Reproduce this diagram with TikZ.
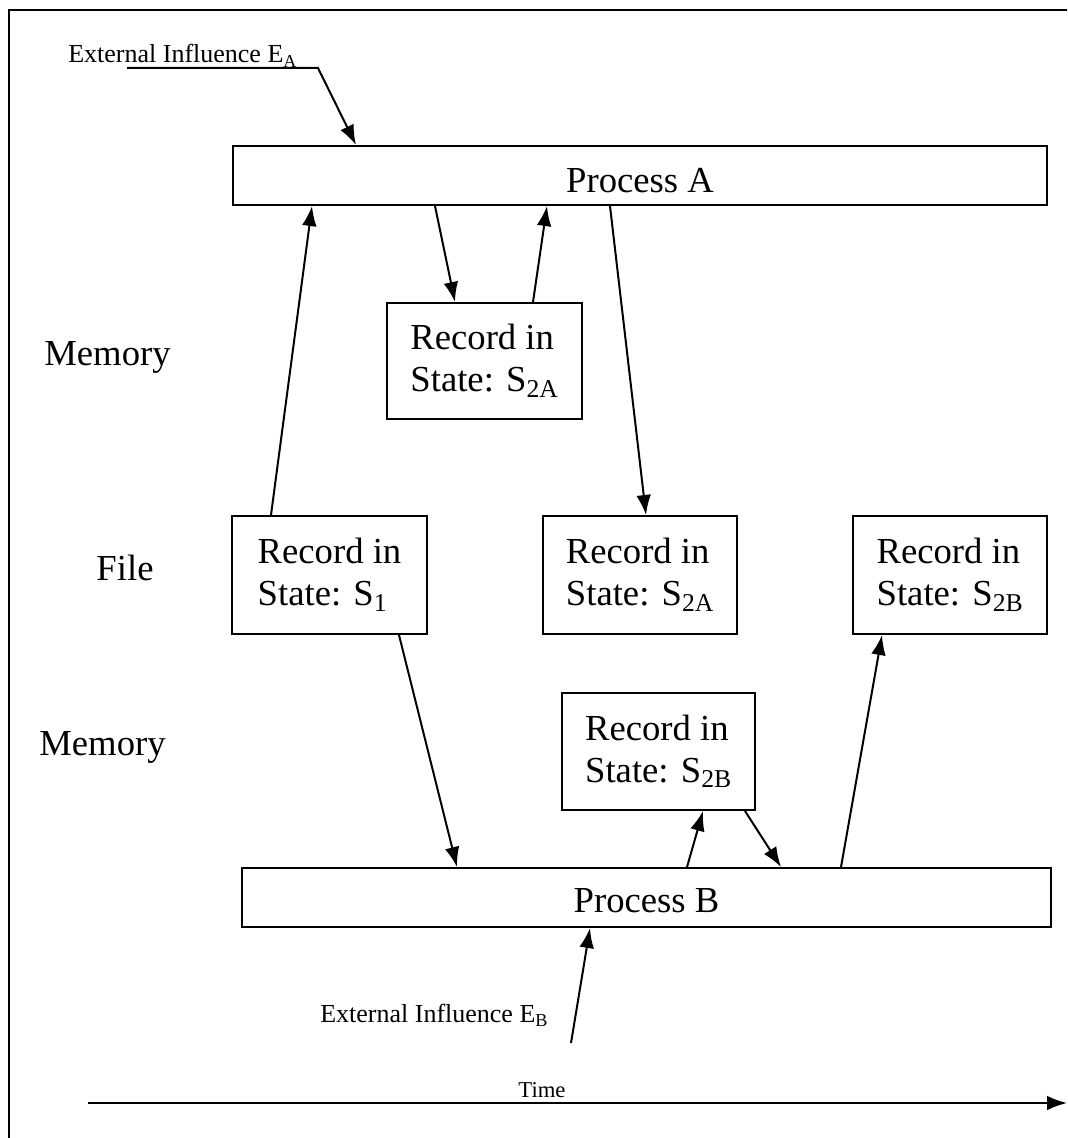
\documentclass[tikz,border=0pt]{standalone}
\usepackage{fontspec}
\setmainfont{Liberation Serif}
\usetikzlibrary{arrows.meta,calc}
\begin{document}
\begin{tikzpicture}[x=0.75pt,y=-0.75pt,
  box/.style={draw, line width=1.5pt, inner sep=0pt, align=left, font=\fontsize{27.5}{31.5}\selectfont},
  conn/.style={line width=1.5pt, -{Latex[length=15pt,width=11pt]}},
  lbl/.style={font=\fontsize{27.5}{31.5}\selectfont, anchor=base, inner sep=0pt},
  small/.style={font=\fontsize{19.5}{22}\selectfont, anchor=base west, inner sep=0pt}]
\useasboundingbox (0,0) rectangle (1067,1138);
\clip (0,0) rectangle (1067,1138);
\draw[line width=1.5pt] (9,1150) -- (9,10) -- (1080,10);
% boxes
\node[box, minimum width=610.5pt, minimum height=44.25pt] (PA) at (640,175.5) {\raisebox{-4pt}[\height][\depth]{Process A}};
\node[box, minimum width=606.75pt, minimum height=44.25pt] (PB) at (646.5,897.5) {\raisebox{-2pt}[\height][\depth]{Process B}};
\node[box, minimum width=146.25pt, minimum height=87pt] (M2A) at (484.5,361) {Record in\\State: S\textsubscript{2A}};
\node[box, minimum width=146.25pt, minimum height=88.5pt] (F1) at (329.5,575) {Record in\\State: S\textsubscript{1}};
\node[box, minimum width=145.5pt, minimum height=88.5pt] (F2A) at (640,575) {Record in\\State: S\textsubscript{2A}};
\node[box, minimum width=145.5pt, minimum height=88.5pt] (F2B) at (950,575) {Record in\\State: S\textsubscript{2B}};
\node[box, minimum width=144.75pt, minimum height=87.75pt] (M2B) at (658.5,751.5) {Record in\\State: S\textsubscript{2B}};
% row labels
\node[lbl] (mem1) at (107.5,365) {Memory};
\node[lbl] (file) at (125,580) {File};
\node[lbl] (mem2) at (102.5,755) {Memory};
% external influences
\node[small] (extA) at (68,63) {External Influence E\textsubscript{A}};
\node[small] (extB) at (320,1022) {External Influence E\textsubscript{B}};
\node[font=\fontsize{17}{20}\selectfont, anchor=base, inner sep=0pt] (time) at (542,1097) {Time};
\coordinate (ea) at (127,68);
\coordinate (eabend) at (318,68);
\coordinate (eb) at (571,1043);
\coordinate (t0) at (88,1103);
\coordinate (t1) at (1067,1103);
% connectors
\draw[conn] (ea) -- (eabend) -- ($(PA.north west)+(124,0)$);
\draw[conn] ($(F1.north west)+(40,0)$) -- ($(PA.south west)+(80,0)$);
\draw[conn] ($(PA.south west)+(203,0)$) -- ($(M2A.north west)+(69,0)$);
\draw[conn] ($(M2A.north west)+(147,0)$) -- ($(PA.south west)+(315,0)$);
\draw[conn] ($(PA.south west)+(378,0)$) -- ($(F2A.north west)+(104,0)$);
\draw[conn] ($(F1.south west)+(168,0)$) -- ($(PB.north west)+(216,0)$);
\draw[conn] ($(PB.north west)+(446,0)$) -- ($(M2B.south west)+(142,0)$);
\draw[conn] ($(M2B.south west)+(184,0)$) -- ($(PB.north west)+(540,0)$);
\draw[conn] ($(PB.north west)+(600,0)$) -- ($(F2B.south west)+(30,0)$);
\draw[conn] (eb) -- ($(PB.south west)+(349,0)$);
\draw[conn] (t0) -- (t1);
\end{tikzpicture}
\end{document}
